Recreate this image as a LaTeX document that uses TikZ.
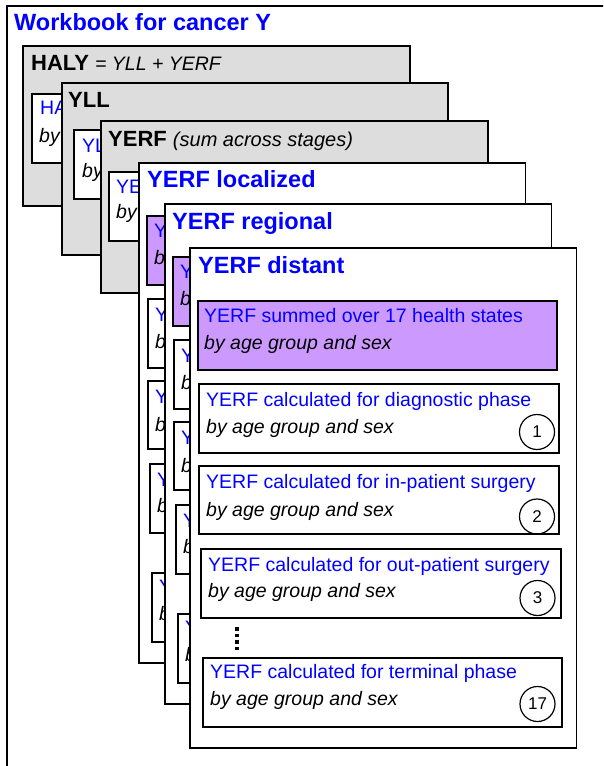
\documentclass[tikz,border=0pt]{standalone}
\usepackage{fontspec}
\setmainfont{Liberation Sans}
\definecolor{cardgray}{RGB}{221,221,221}
\definecolor{lav}{RGB}{204,153,255}
\definecolor{tblue}{RGB}{0,0,255}
\tikzset{
 cardbox/.style={draw=black, line width=1.6pt, anchor=north west, inner sep=0pt, outer sep=0pt},
 innerbox/.style={draw=black, line width=1.5pt, anchor=north west, inner sep=0pt, outer sep=0pt, fill=white},
 txt/.style={anchor=base west, inner sep=0pt, font=\fontsize{19.5}{23}\selectfont},
 bluetxt/.style={txt, text=tblue},
 bytxt/.style={txt, font=\fontsize{19.5}{23}\selectfont\itshape},
 titleblue/.style={anchor=base west, inner sep=0pt, text=tblue, font=\fontsize{23.5}{28}\selectfont\bfseries},
 titleblack/.style={anchor=base west, inner sep=0pt, font=\fontsize{22}{26}\selectfont},
 numcircle/.style={circle, draw=black, line width=1.2pt, minimum size=35pt, inner sep=0pt, font=\fontsize{17}{20}\selectfont},
 dotline/.style={line width=3.5pt, dash pattern=on 3.5pt off 3pt},
}
\newcommand\hiddencard[4]{% name, shift, title, title offset
\begin{scope}[shift={#2}]
\node[cardbox, fill=white, minimum width=386.5pt, minimum height=500pt] (#1) at (0,0) {};
\node[titleblue] (#1-t) at #4 {#3};
\node[innerbox, fill=lav, minimum width=359pt, minimum height=69pt] (#1-p) at (8,53) {};
\node[bluetxt] (#1-p1) at (15,74) {Y};
\node[bytxt] (#1-p2) at (15,101) {b};
\node[innerbox, minimum width=360pt, minimum height=69pt] (#1-a) at (9,136) {};
\node[bluetxt] (#1-a1) at (16,158) {Y};
\node[bytxt] (#1-a2) at (16,185) {b};
\node[innerbox, minimum width=360pt, minimum height=68pt] (#1-b) at (9,218) {};
\node[bluetxt] (#1-b1) at (16,240) {Y};
\node[bytxt] (#1-b2) at (16,268) {b};
\node[innerbox, minimum width=360pt, minimum height=69pt] (#1-c) at (11,301) {};
\node[bluetxt] (#1-c1) at (18,323) {Y};
\node[bytxt] (#1-c2) at (18,349) {b};
\node[innerbox, minimum width=359pt, minimum height=69pt] (#1-d) at (13,410) {};
\node[bluetxt] (#1-d1) at (20,430) {Y};
\node[bytxt] (#1-d2) at (20,457) {b};
\end{scope}}
\begin{document}
\begin{tikzpicture}[x=1pt,y=-1pt]
\useasboundingbox (0,0) rectangle (603,766);
\clip (0,0) rectangle (603,766);
\fill[white] (0,0) rectangle (603,766);
% workbook frame
\node[cardbox, line width=1.4pt, minimum width=640pt, minimum height=800pt] (wb) at (7,6) {};
\node[titleblue] (wb-t) at (14,30) {Workbook for cancer Y};
% HALY
\node[cardbox, fill=cardgray, minimum width=387pt, minimum height=160pt] (haly) at (23,46) {};
\node[titleblack] (haly-t) at (31,70) {\textbf{HALY} {\fontsize{19.5}{23}\selectfont\itshape = YLL + YERF}};
\node[innerbox, minimum width=359pt, minimum height=69pt] (haly-i) at (32,94) {};
\node[bluetxt] (haly-i1) at (40,114) {HA};
\node[bytxt] (haly-i2) at (39,142) {by};
% YLL
\node[cardbox, fill=cardgray, minimum width=386pt, minimum height=172pt] (yll) at (62,83) {};
\node[titleblack] (yll-t) at (68,107) {\textbf{YLL}};
\node[innerbox, minimum width=359pt, minimum height=69pt] (yll-i) at (74,130) {};
\node[bluetxt] (yll-i1) at (82,152) {YL};
\node[bytxt] (yll-i2) at (82,177) {by};
% YERF
\node[cardbox, fill=cardgray, minimum width=387pt, minimum height=172pt] (yerf) at (101,121) {};
\node[titleblack] (yerf-t) at (108,146) {\textbf{YERF} {\fontsize{20}{23}\selectfont\itshape (sum across stages)}};
\node[innerbox, minimum width=359pt, minimum height=69pt] (yerf-i) at (109,172) {};
\node[bluetxt] (yerf-i1) at (116,193) {YE};
\node[bytxt] (yerf-i2) at (116,218) {by};
% stage cards
\hiddencard{loc}{(139,163)}{YERF localized}{(8,24)}
\hiddencard{reg}{(165,204)}{YERF regional}{(7,25)}
\begin{scope}[shift={(190,248)}]
\node[cardbox, fill=white, minimum width=386.5pt, minimum height=500pt] (dist) at (0,0) {};
\node[titleblue] (dist-t) at (8,25) {YERF distant};
\node[innerbox, fill=lav, minimum width=359pt, minimum height=69pt] (sum) at (8,53) {};
\node[bluetxt] (sum-1) at (14,74) {YERF summed over 17 health states};
\node[bytxt] (sum-2) at (14,101) {by age group and sex};
\node[innerbox, minimum width=360pt, minimum height=69pt] (diag) at (9,136) {};
\node[bluetxt] (diag-1) at (16,158) {YERF calculated for diagnostic phase};
\node[bytxt] (diag-2) at (16,185) {by age group and sex};
\node[numcircle] (diag-n) at (347,184) {1};
\node[innerbox, minimum width=360pt, minimum height=68pt] (inp) at (9,218) {};
\node[bluetxt] (inp-1) at (16,240) {YERF calculated for in-patient surgery};
\node[bytxt] (inp-2) at (16,268) {by age group and sex};
\node[numcircle] (inp-n) at (347,268.5) {2};
\node[innerbox, minimum width=360pt, minimum height=69pt] (outp) at (11,301) {};
\node[bluetxt] (outp-1) at (18,323) {YERF calculated for out-patient surgery};
\node[bytxt] (outp-2) at (18,349) {by age group and sex};
\node[numcircle] (outp-n) at (347.5,350) {3};
\coordinate (dots-a) at (47,379);
\coordinate (dots-b) at (47,404);
\draw[dotline] (dots-a) -- (dots-b);
\node[innerbox, minimum width=359pt, minimum height=69pt] (term) at (13,410) {};
\node[bluetxt] (term-1) at (20,430) {YERF calculated for terminal phase};
\node[bytxt] (term-2) at (20,457) {by age group and sex};
\node[numcircle] (term-n) at (347.5,456) {17};
\end{scope}
\end{tikzpicture}
\end{document}
